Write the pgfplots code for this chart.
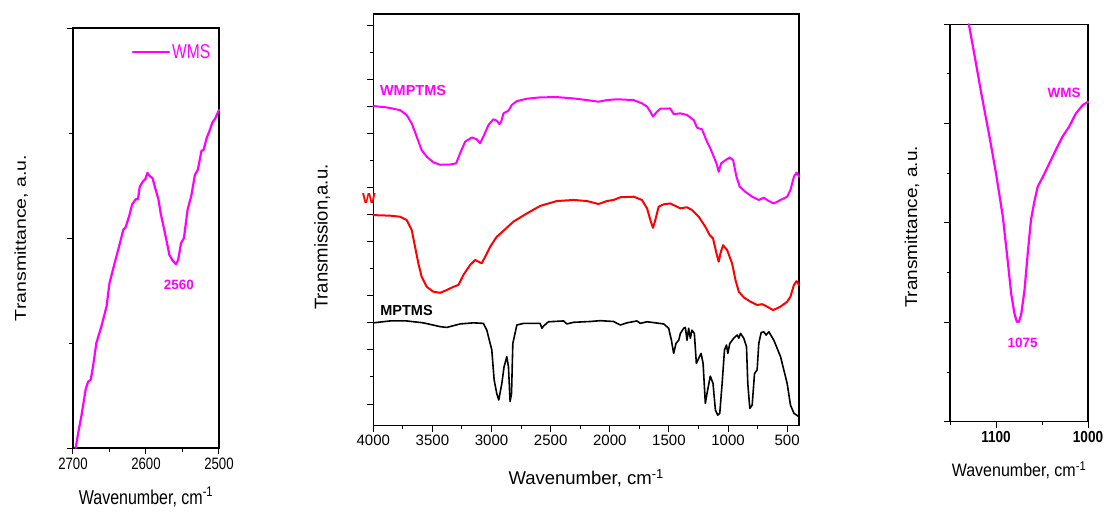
\documentclass[border=0pt]{standalone}
\usepackage{fontspec}
\setmainfont{Liberation Sans}
\usepackage{graphicx}
\usepackage{pgfplots}
\pgfplotsset{compat=1.18}
\definecolor{mag}{RGB}{255,0,255}
\begin{document}
\begin{tikzpicture}
\useasboundingbox (0pt,0pt) rectangle (1104pt,512pt);
\pgfplotsset{
  common/.style={scale only axis, anchor=south west,
    axis line style={line width=1.1pt},
    every tick/.style={black, line width=1pt},
    tick align=outside, tick pos=left,
    major tick length=6pt, minor tick length=3.5pt,
    yticklabels={},
    /pgf/number format/1000 sep={},
    /pgf/number format/assume math mode=true,
    x dir=reverse, clip=false,
    every axis plot/.append style={line join=round, line cap=round}}
}
% ---------------- left panel ----------------
\begin{axis}[common, at={(73pt,64pt)}, width=146pt, height=420pt,
  xmin=2500, xmax=2700, ymin=0, ymax=4,
  xtick={2700,2600,2500}, minor xtick={2650,2550},
  ytick={0,2,4}, minor ytick={1,3},
  xticklabel={\scalebox{0.8}[1]{\pgfmathprintnumber{\tick}}},
  xticklabel style={font=\fontsize{16.5}{19}\selectfont},
  xlabel={\scalebox{0.8}[1]{Wavenumber, cm\textsuperscript{-1}}},
  xlabel style={font=\fontsize{20}{24}\selectfont, at={(axis description cs:0.5,-0.117)}, anchor=center},
  ylabel={\scalebox{1}[0.8]{Transmittance, a.u.}},
  ylabel style={font=\fontsize{19.5}{22}\selectfont, at={(axis description cs:-0.355,0.5)}, anchor=center},
  legend style={at={(axis description cs:0.955,0.943)}, anchor=east, draw=none, fill=none,
    font=\fontsize{20}{24}\selectfont, text=mag, inner sep=0pt},
  legend image code/.code={\draw[#1] (0pt,0pt) -- (36pt,0pt);}
]
\addplot[mag, line width=2.2pt] coordinates {
(2696.3,0) (2693,0.14) (2688.6,0.30) (2682.6,0.56) (2679.4,0.63) (2675.7,0.65)
(2672.5,0.78) (2668,1.0) (2661,1.16) (2654,1.35) (2650,1.57) (2643,1.76)
(2638,1.89) (2631,2.08) (2628,2.10) (2623,2.21) (2619,2.32) (2614,2.37)
(2611,2.37) (2608.5,2.49) (2604,2.54) (2601,2.56) (2598,2.62) (2595,2.59)
(2591,2.57) (2588,2.49) (2583,2.37) (2580,2.24) (2576,2.11) (2572,1.98)
(2568,1.84) (2564,1.79) (2559,1.75) (2556,1.79) (2552,1.95) (2548,2.0)
(2543,2.27) (2538,2.40) (2533,2.60) (2529,2.65) (2524,2.83) (2521,2.84)
(2517,2.95) (2513,3.02) (2509,3.10) (2505,3.14) (2500,3.22)};
\addlegendentry{\scalebox{0.78}[1]{WMS}}
\node[text=mag, font=\bfseries\fontsize{13.5}{16}\selectfont] at (axis cs:2555,1.55) {2560};
\end{axis}
% ---------------- middle panel ----------------
\begin{axis}[common, at={(373.3pt,86.3pt)}, width=425.7pt, height=411.7pt,
  xmin=400, xmax=4000, ymin=-0.8, ymax=14.41,
  xtick={4000,3500,...,500}, minor xtick={3750,3250,...,750},
  ytick={0,2,3,4,6,7,8,10,11,12,14}, minor ytick={1,5,9,13},
  xticklabel style={font=\fontsize{15}{18}\selectfont},
  xlabel={Wavenumber, cm\textsuperscript{-1}},
  xlabel style={font=\fontsize{18.5}{22}\selectfont, at={(axis description cs:0.5,-0.127)}, anchor=center},
  ylabel={Transmission,a.u.},
  ylabel style={font=\fontsize{18.5}{22}\selectfont, at={(axis description cs:-0.12,0.458)}, anchor=center}
]
\addplot[black, line width=1.6pt] coordinates {
(4000,3.0) (3859,3.07) (3718,3.07) (3577,3.0) (3435,2.86) (3379,2.83) (3266,2.96)
(3153,3.0) (3069,2.98) (3040,2.73) (2998,2.0) (2978,0.89) (2956,0.39) (2939,0.15)
(2913,0.76) (2894,1.38) (2871,1.75) (2857,1.38) (2843,0.09) (2831,0.39) (2820,2.24)
(2786,2.92) (2730,2.98) (2589,2.98) (2574,2.80) (2561,2.88) (2518,3.04) (2391,3.07)
(2363,2.96) (2306,3.02) (2165,3.05) (2081,3.08) (1968,3.05) (1911,2.92) (1855,3.0)
(1770,3.07) (1742,2.98) (1685,3.04) (1544,2.96) (1502,2.80) (1479,2.36) (1460,1.87)
(1440,2.24) (1417,2.36) (1403,2.61) (1375,2.80) (1361,2.83) (1347,2.36) (1333,2.80)
(1319,2.43) (1305,2.73) (1285,2.61) (1268,1.50) (1248,1.69) (1228,1.87) (1211,1.50)
(1192,0.02) (1178,0.39) (1150,1.03) (1127,0.76) (1107,-0.22) (1087,-0.41) (1070,-0.34)
(1050,0.76) (1030,2.0) (1013,2.18) (1002,1.87) (985,2.24) (952,2.43) (923,2.55)
(909,2.43) (895,2.61) (867,2.43) (844,2.12) (833,0.76) (816,-0.16) (796,-0.04)
(776,1.13) (754,1.26) (740,2.24) (720,2.64) (698,2.67) (678,2.55) (655,2.67)
(613,2.36) (556,1.75) (500,0.76) (472,-0.04) (443,-0.34) (400,-0.47)};
\addplot[red, line width=2pt] coordinates {
(4000,6.98) (3859,6.96) (3774,6.92) (3718,6.80) (3675,6.43) (3647,5.81) (3619,5.20)
(3591,4.70) (3548,4.33) (3492,4.15) (3435,4.11) (3379,4.21) (3323,4.33) (3280,4.40)
(3238,4.77) (3181,5.14) (3139,5.32) (3111,5.26) (3083,5.20) (3054,5.44) (3012,5.81)
(2956,6.18) (2899,6.40) (2815,6.74) (2702,7.04) (2589,7.32) (2448,7.50) (2306,7.54)
(2193,7.50) (2095,7.39) (2024,7.50) (1968,7.54) (1911,7.64) (1798,7.66) (1728,7.54)
(1685,7.23) (1657,6.80) (1635,6.51) (1615,6.80) (1587,7.29) (1544,7.38) (1488,7.41)
(1460,7.35) (1403,7.23) (1347,7.27) (1305,7.17) (1248,6.92) (1192,6.55) (1155,6.24)
(1127,6.12) (1098,5.57) (1079,5.26) (1064,5.57) (1042,5.87) (1008,5.69) (966,5.20)
(937,4.58) (909,4.15) (867,3.94) (810,3.78) (754,3.66) (712,3.69) (670,3.60)
(619,3.47) (556,3.60) (500,3.78) (472,3.97) (443,4.40) (421,4.54) (400,4.40)};
\addplot[mag, line width=2pt] coordinates {
(4000,11.01) (3887,10.96) (3774,10.86) (3718,10.68) (3675,10.37) (3633,9.88) (3591,9.38)
(3548,9.14) (3492,8.93) (3435,8.84) (3351,8.85) (3300,8.89) (3266,9.26) (3224,9.69)
(3167,9.85) (3125,9.78) (3097,9.63) (3069,9.88) (3026,10.31) (2984,10.52) (2956,10.47)
(2933,10.34) (2919,10.43) (2899,10.74) (2857,10.84) (2829,11.05) (2786,11.19) (2702,11.28)
(2589,11.33) (2448,11.34) (2306,11.29) (2193,11.23) (2095,11.17) (2024,11.23) (1940,11.26)
(1798,11.23) (1728,11.11) (1685,10.99) (1657,10.80) (1635,10.62) (1601,10.80) (1573,10.91)
(1488,10.92) (1460,10.71) (1403,10.74) (1347,10.68) (1290,10.49) (1262,10.21) (1220,10.15)
(1178,9.69) (1150,9.45) (1121,9.14) (1098,8.89) (1079,8.58) (1059,8.89) (1022,9.01)
(985,9.11) (957,9.01) (929,8.40) (901,8.03) (853,7.84) (796,7.66) (740,7.54)
(698,7.62) (655,7.50) (613,7.41) (556,7.54) (500,7.66) (472,7.91) (443,8.40)
(421,8.55) (400,8.40)};
\node[text=mag, font=\bfseries\fontsize{14.5}{17}\selectfont] at (axis cs:3664,11.57) {WMPTMS};
\node[text=red, font=\bfseries\fontsize{14.5}{17}\selectfont] at (axis cs:4037,7.61) {W};
\node[text=black, font=\bfseries\fontsize{14.5}{17}\selectfont] at (axis cs:3719,3.44) {MPTMS};
\end{axis}
% ---------------- right panel ----------------
\begin{axis}[common, at={(950pt,90.3pt)}, width=138pt, height=397.4pt,
  xmin=1000, xmax=1150, ymin=0, ymax=8,
  xtick={1100,1000}, minor xtick={1150,1050},
  ytick={0,2,4,6,8}, minor ytick={1,3,5,7},
  xticklabel={\scalebox{0.85}[1]{\bfseries\pgfmathprintnumber{\tick}}},
  xticklabel style={font=\fontsize{16}{19}\selectfont},
  xlabel={\scalebox{0.89}[1]{Wavenumber, cm\textsuperscript{-1}}},
  xlabel style={font=\fontsize{18}{22}\selectfont, at={(axis description cs:0.5,-0.1215)}, anchor=center},
  ylabel={\scalebox{1}[0.9]{Transmittance, a.u.}},
  ylabel style={font=\fontsize{19}{22}\selectfont, at={(axis description cs:-0.275,0.49)}, anchor=center}
]
\addplot[mag, line width=2.2pt] coordinates {
(1129.5,8.0) (1123,7.34) (1116,6.61) (1107,5.73) (1100,5.0) (1092.5,4.12) (1087,3.19)
(1083.5,2.58) (1080,2.18) (1077.3,2.01) (1075.2,2.01) (1072.7,2.15) (1069,2.65)
(1065.5,3.39) (1062,4.06) (1058,4.46) (1054.7,4.73) (1049,4.93) (1042,5.20)
(1035,5.47) (1028,5.73) (1020.5,5.94) (1013.3,6.20) (1006,6.37) (1000,6.44)};
\node[text=mag, font=\bfseries\fontsize{13.5}{16}\selectfont] at (axis cs:1026,6.62) {WMS};
\node[text=mag, font=\bfseries\fontsize{13.5}{16}\selectfont] at (axis cs:1071,1.58) {1075};
\end{axis}
\end{tikzpicture}
\end{document}
